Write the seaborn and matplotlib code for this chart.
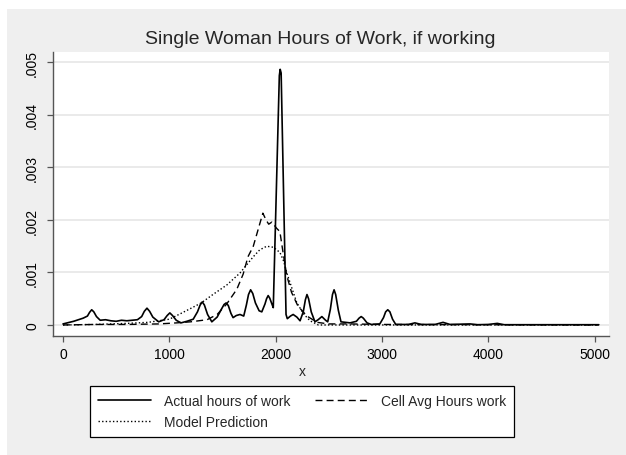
import numpy as np
import pandas as pd
import seaborn as sns
import matplotlib.pyplot as plt
from matplotlib.patches import Rectangle

# Density curves (x = hours, y = density x 1000)
actual_x = [0, 100, 190, 230, 250, 270, 290, 315, 350, 400, 450, 500, 550, 600, 650, 700, 740, 765,
            790, 815, 845, 900, 950, 980, 1005, 1030, 1065, 1110, 1165, 1225, 1265, 1290, 1310, 1330,
            1360, 1400, 1450, 1490, 1515, 1535, 1555, 1580, 1600, 1630, 1665, 1700, 1725, 1745, 1765,
            1785, 1810, 1845, 1870, 1900, 1915, 1930, 1945, 1965, 1978, 2035, 2043, 2052, 2098, 2110,
            2140, 2165, 2200, 2230, 2260, 2280, 2295, 2310, 2335, 2370, 2400, 2435, 2470, 2490, 2515,
            2535, 2550, 2565, 2590, 2615, 2700, 2760, 2785, 2805, 2825, 2860, 2900, 2980, 3015, 3035,
            3055, 3075, 3100, 3130, 3250, 3310, 3370, 3500, 3575, 3640, 3830, 3900, 4000, 4085, 4150,
            4500, 5040]
actual_y = [0.02, 0.07, 0.13, 0.17, 0.24, 0.29, 0.25, 0.16, 0.09, 0.10, 0.08, 0.07, 0.09, 0.08, 0.09,
            0.10, 0.16, 0.26, 0.32, 0.26, 0.15, 0.06, 0.10, 0.18, 0.23, 0.18, 0.09, 0.04, 0.07, 0.11,
            0.25, 0.38, 0.44, 0.38, 0.20, 0.06, 0.15, 0.30, 0.39, 0.42, 0.37, 0.22, 0.14, 0.18, 0.20,
            0.17, 0.38, 0.58, 0.67, 0.60, 0.42, 0.27, 0.25, 0.40, 0.50, 0.56, 0.51, 0.40, 0.33, 4.75,
            4.87, 4.80, 0.20, 0.12, 0.17, 0.20, 0.15, 0.08, 0.25, 0.48, 0.58, 0.50, 0.25, 0.06, 0.10,
            0.16, 0.09, 0.06, 0.30, 0.58, 0.67, 0.58, 0.28, 0.06, 0.04, 0.07, 0.13, 0.16, 0.13, 0.04,
            0.01, 0.02, 0.14, 0.25, 0.29, 0.25, 0.11, 0.01, 0.01, 0.04, 0.01, 0.01, 0.05, 0.01, 0.02,
            0.005, 0.01, 0.03, 0.005, 0.005, 0.005]

cell_x = [0, 300, 600, 900, 1070, 1200, 1355, 1450, 1540, 1635, 1695, 1740, 1790, 1840, 1880, 1910,
          1935, 1965, 2010, 2040, 2070, 2105, 2150, 2210, 2295, 2390, 2500, 2700, 3000, 5040]
cell_y = [0.0, 0.01, 0.01, 0.02, 0.04, 0.06, 0.10, 0.20, 0.40, 0.68, 0.97, 1.30, 1.50, 1.85, 2.13,
          2.00, 1.92, 1.96, 1.84, 1.78, 1.38, 0.94, 0.62, 0.36, 0.17, 0.05, 0.02, 0.02, 0.01, 0.0]

model_x = [0, 300, 600, 800, 1000, 1100, 1225, 1300, 1410, 1540, 1665, 1790, 1850, 1916, 1980, 2041,
           2075, 2104, 2150, 2198, 2260, 2323, 2402, 5040]
model_y = [0.0, 0.01, 0.03, 0.05, 0.11, 0.21, 0.34, 0.42, 0.58, 0.76, 0.99, 1.30, 1.43, 1.50, 1.48,
           1.38, 1.22, 1.00, 0.72, 0.43, 0.22, 0.08, 0.0, 0.0]

y_ticks = [0, 0.001, 0.002, 0.003, 0.004, 0.005]
y_tick_labels = ['0', '.001', '.002', '.003', '.004', '.005']
x_ticks = [0, 1000, 2000, 3000, 4000, 5000]

sns.set_style('white')
plt.rcParams['font.family'] = ['Liberation Sans', 'DejaVu Sans']

fig = plt.figure(figsize=(6.26, 4.56), dpi=100, facecolor='white')
# grey graph region (small white margin at top/left like the source image)
fig.patches.append(Rectangle((7 / 626, 0), 1, 1 - 10 / 456, transform=fig.transFigure,
                             facecolor='#efefef', edgecolor='none', zorder=-1))

ax = fig.add_axes([53 / 626, 119 / 456, 556 / 626, 284 / 456])
ax.set_facecolor('white')

df_a = pd.DataFrame({'x': actual_x, 'y': np.array(actual_y) / 1000})
df_c = pd.DataFrame({'x': cell_x, 'y': np.array(cell_y) / 1000})
df_m = pd.DataFrame({'x': model_x, 'y': np.array(model_y) / 1000})

sns.lineplot(data=df_a, x='x', y='y', ax=ax, color='black', lw=1.2, estimator=None)
sns.lineplot(data=df_c, x='x', y='y', ax=ax, color='black', lw=1.0, estimator=None)
sns.lineplot(data=df_m, x='x', y='y', ax=ax, color='black', lw=1.0, estimator=None)
l_act, l_cell, l_mod = ax.lines[-3:]
l_cell.set_dashes([5, 3])
l_mod.set_dashes([1, 1.6])

ax.set_xlim(-94, 5136)
ax.set_ylim(-0.00021, 0.0052)
ax.set_yticks(y_ticks)
ax.set_yticklabels(y_tick_labels)
ax.set_xticks(x_ticks)
ax.grid(axis='y', color='#e6e6e6', lw=1.2)
ax.set_axisbelow(True)
for s in ['top', 'right']:
    ax.spines[s].set_visible(False)
for s in ['left', 'bottom']:
    ax.spines[s].set_color('#555555')
    ax.spines[s].set_linewidth(1.0)
ax.tick_params(axis='both', direction='out', length=4, width=0.9, color='#555555',
               labelsize=10, labelcolor='black', left=True, bottom=True)
ax.tick_params(axis='y', pad=6)
ax.tick_params(axis='x', pad=4)
plt.setp(ax.get_yticklabels(), rotation=90, va='center')
ax.set_xlabel('')
ax.set_ylabel('')

fig.text(320 / 626, 1 - 40 / 456, 'Single Woman Hours of Work, if working', ha='center', va='center',
         fontsize=14)
fig.text(302 / 626, 1 - 372 / 456, 'x', ha='center', va='center', fontsize=10)

leg = fig.legend([l_act, l_mod, l_cell], ['Actual hours of work', 'Model Prediction', 'Cell Avg Hours work'],
                 ncol=2, loc='lower left', mode='expand', borderaxespad=0,
                 bbox_to_anchor=(90 / 626, 1 - 438 / 456, 424 / 626, 51 / 456),
                 fontsize=10, handlelength=3.8, handletextpad=0.95, borderpad=0.58,
                 labelspacing=0.51, fancybox=False, framealpha=1, edgecolor='black')
leg.get_frame().set_linewidth(0.9)

fig.savefig('out.png', dpi=100, facecolor=fig.get_facecolor())
